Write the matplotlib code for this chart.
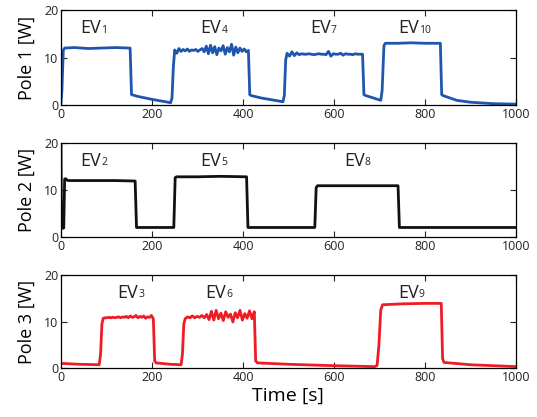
import numpy as np
import matplotlib
matplotlib.use("Agg")
import matplotlib.pyplot as plt

plt.rcParams['font.family'] = ['Open Sans', 'DejaVu Sans']

# ---- Pole 1 (blue) ----
ev4_vals = [11.6, 10.9, 11.9, 11.3, 11.7, 11.4, 11.8, 11.3, 11.6, 11.5, 11.7, 11.3,
            11.6, 11.9, 11.2, 12.4, 10.8, 12.6, 11.0, 12.3, 10.6, 12.0, 11.4, 12.5,
            10.7, 12.1, 11.2, 12.8, 10.5, 12.2, 11.0, 12.0, 11.3, 11.8, 11.2, 11.5]
ev7_vals = [10.9, 10.3, 11.2, 10.4, 11.0, 10.6, 10.8, 10.7, 10.7, 10.8, 10.7, 10.6,
            10.7, 10.8, 10.7, 10.7, 10.6, 11.3, 10.3, 10.8, 10.7, 10.7, 10.9, 10.5,
            10.8, 10.7, 10.7, 10.6, 10.8, 10.7, 10.7, 10.7]
t1 = ([0, 2, 5, 8, 30, 60, 90, 120, 150, 152, 155, 170, 200, 230, 241, 244, 247]
      + list(np.linspace(250, 412, len(ev4_vals)))
      + [415, 418, 440, 470, 488, 491, 494]
      + list(np.linspace(497, 663, len(ev7_vals)))
      + [666, 670, 690, 703, 706, 710, 713, 740, 770, 800, 834,
         837, 840, 870, 900, 950, 1000])
p1 = ([0.5, 3, 11.5, 12.0, 12.1, 11.9, 12.0, 12.1, 12.0, 12.0, 2.2, 1.8, 1.2, 0.7, 0.5, 1.5, 8]
      + ev4_vals
      + [2.2, 2.0, 1.5, 1.0, 0.7, 2.0, 9.5]
      + ev7_vals
      + [2.2, 2.0, 1.4, 1.0, 3.0, 12.5, 13.0, 13.0, 13.1, 13.0, 13.0,
         2.2, 2.0, 1.0, 0.6, 0.3, 0.2])

# ---- Pole 2 (black) ----
t2 = [0, 1, 3, 6, 8, 10, 15, 60, 120, 163, 166, 200, 248, 251, 254, 300, 350, 408, 411,
      480, 558, 561, 564, 650, 741, 744, 850, 1000]
p2 = [20, 2, 1.8, 1.9, 12.3, 12.4, 12.0, 12.0, 12.0, 11.9, 2.0, 2.0, 2.0, 12.6, 12.8,
      12.8, 12.9, 12.8, 2.0, 2.0, 2.0, 10.5, 10.9, 10.9, 10.9, 2.0, 2.0, 2.0]

# ---- Pole 3 (red) ----
ev3_vals = [10.7, 10.8, 10.8, 10.9, 10.8, 10.9, 10.8, 10.9, 11.0, 10.8, 11.0, 10.9,
            11.1, 10.8, 11.2, 10.9, 11.0, 11.3, 10.8, 11.1, 10.9, 11.2, 10.7, 11.0,
            10.9, 11.3, 10.6]
ev6_vals = [10.6, 11.0, 10.8, 11.2, 10.8, 11.1, 10.9, 11.3, 10.8, 11.5, 10.4, 12.2,
            10.3, 12.4, 10.6, 11.8, 10.2, 12.1, 10.9, 11.6, 9.9, 11.9, 10.8, 12.4,
            10.3, 11.7, 10.7, 12.3, 10.6, 12.1]
t3 = ([0, 40, 84, 87, 90]
      + list(np.linspace(93, 203, len(ev3_vals)))
      + [206, 209, 240, 264, 267, 270]
      + list(np.linspace(273, 425, len(ev6_vals)))
      + [428, 432, 500, 600, 690, 695, 699, 703, 707, 750, 800, 836,
         839, 842, 900, 1000])
p3 = ([1.0, 0.8, 0.7, 3.0, 9.5]
      + ev3_vals
      + [1.5, 1.1, 0.8, 0.7, 3.0, 9.5]
      + ev6_vals
      + [1.5, 1.1, 0.8, 0.5, 0.3, 0.6, 5.0, 12.5, 13.6, 13.8, 13.9, 13.9,
         2.0, 1.2, 0.7, 0.3])

colors = ['#1f56ad', '#111111', '#ee1c25']
ylabels = ['Pole 1 [W]', 'Pole 2 [W]', 'Pole 3 [W]']
ev_names = [['1', '4', '7', '10'], ['2', '5', '8'], ['3', '6', '9']]
ev_x = [[66, 330, 570, 765], [65, 329, 645], [147, 340, 764]]
series = [(t1, p1), (t2, p2), (t3, p3)]

fig = plt.figure(figsize=(5.37, 4.17), dpi=100)
bottoms = [0.748, 0.432, 0.1175]
heights = [0.228, 0.225, 0.223]

for i in range(3):
    ax = fig.add_axes([0.1136, bottoms[i], 0.847, heights[i]])
    t, p = series[i]
    ax.plot(t, p, color=colors[i], lw=2.0)
    ax.set_xlim(0, 1000)
    ax.set_ylim(0, 20)
    ax.set_xticks([0, 200, 400, 600, 800, 1000])
    ax.set_yticks([0, 10, 20])
    ax.tick_params(direction='in', top=True, right=True, length=4, width=0.8,
                   labelsize=9, pad=2, colors='#222222')
    ax.set_ylabel(ylabels[i], fontsize=13, labelpad=6)
    for s in ax.spines.values():
        s.set_linewidth(0.9)
    for n, x in zip(ev_names[i], ev_x[i]):
        txt = ax.text(x, 16.2, 'EV', fontsize=13, ha='center', va='center',
                      color='#222222')
        ax.annotate(n, xy=(1, 0.08), xycoords=txt, fontsize=7.5, ha='left',
                    va='bottom', color='#222222')
    if i == 2:
        ax.set_xlabel('Time [s]', fontsize=14, labelpad=2)

fig.savefig('out.png', dpi=100)
